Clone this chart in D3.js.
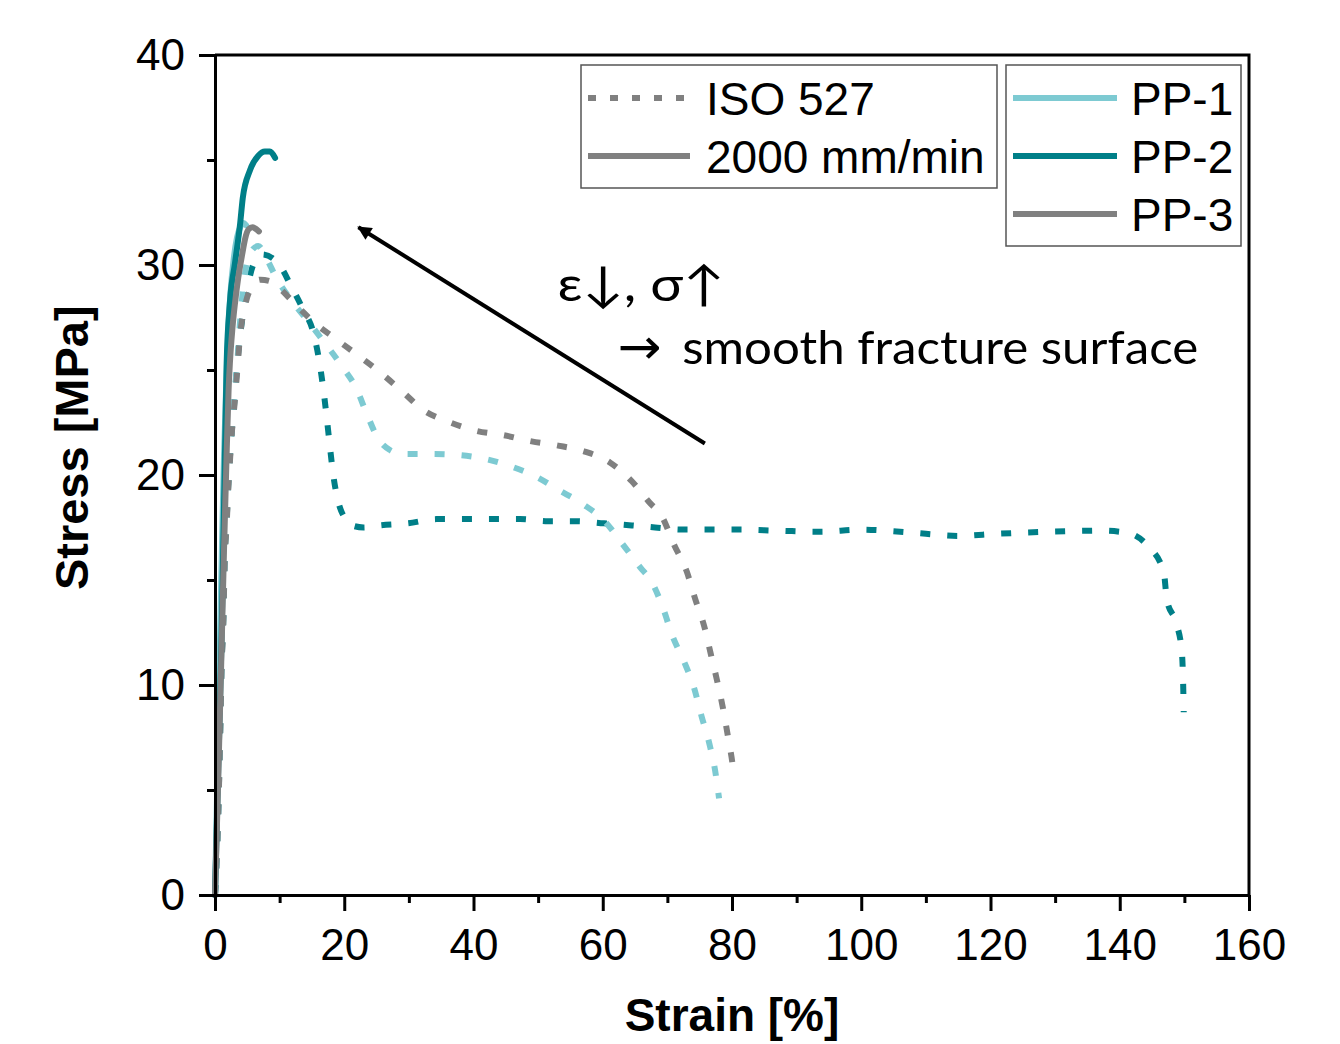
<!DOCTYPE html>
<html>
<head>
<meta charset="utf-8">
<script src="https://cdn.jsdelivr.net/npm/d3@7"></script>
<style>
  body { margin: 0; background: #fff; }
  svg { display: block; }
</style>
</head>
<body>
<div id="chart"></div>
<script>
// Stress-strain curves, ISO 527 (dotted) vs 2000 mm/min (solid)

const xTicks = [0, 20, 40, 60, 80, 100, 120, 140, 160];
const xMinor = [10, 30, 50, 70, 90, 110, 130, 150];
const yTicks = [0, 10, 20, 30, 40];
const yMinor = [5, 15, 25, 35];

const colorPP1 = "#7dcad2";
const colorPP2 = "#007f88";
const colorPP3 = "#808080";

// ISO 527 (slow) curves
const isoPP1Strain = [0, 0.5, 0.8, 1.0, 1.3, 1.5, 1.8, 2.0, 2.3, 2.6, 3.0, 3.4, 3.9, 4.6, 5.5, 6.7, 8.0, 9.3, 11.6, 14.2, 16.7, 19.6, 21.9, 23.5, 25.3, 27.0, 29.1, 33.3, 37.6, 42.0, 45.9, 49.8, 53.1, 57.0, 60.3, 63.1, 65.8, 67.6, 69.4, 70.7, 72.6, 74.1, 75.3, 76.5, 77.4, 78.0];
const isoPP1Stress = [0, 4, 8, 11, 13.5, 16.3, 18, 19.4, 21, 22.3, 23.8, 25.2, 27.4, 29.5, 30.6, 30.9, 30.3, 29.5, 28.4, 27.4, 26.4, 25.2, 24.1, 22.9, 21.7, 21.2, 21.0, 21.0, 20.95, 20.75, 20.4, 19.9, 19.3, 18.6, 17.8, 16.7, 15.6, 14.9, 13.6, 12.4, 11.1, 9.9, 8.5, 7.2, 5.9, 4.6];

const isoPP2Strain = [0, 0.5, 0.8, 1.0, 1.3, 1.5, 1.8, 2.0, 2.3, 2.6, 3.0, 3.5, 4.2, 4.9, 5.9, 7.3, 9.0, 10.4, 11.6, 13.6, 15.2, 16.2, 16.8, 17.3, 17.8, 18.3, 19.1, 20.2, 21.2, 23.0, 25.5, 29.9, 34.3, 38.7, 42.9, 47.2, 51.5, 55.9, 60.2, 64.5, 68.1, 72.3, 76.6, 80.9, 87.0, 93.6, 100, 106, 110, 115, 121, 129, 137.1, 141.1, 144.4, 146.8, 147.3, 148.8, 149.6, 149.8, 149.9];
const isoPP2Stress = [0, 3.9, 7.8, 10.8, 13.3, 16.1, 17.8, 19.2, 20.8, 22.1, 23.5, 25.5, 27.4, 28.7, 30.0, 30.5, 30.3, 29.8, 29.1, 27.9, 26.8, 25.3, 24.0, 22.7, 21.3, 20.0, 18.7, 17.9, 17.6, 17.5, 17.6, 17.7, 17.9, 17.9, 17.9, 17.9, 17.8, 17.8, 17.7, 17.6, 17.5, 17.4, 17.4, 17.4, 17.35, 17.3, 17.4, 17.3, 17.2, 17.1, 17.2, 17.3, 17.35, 17.25, 16.6, 15.4, 14.05, 12.9, 11.6, 10.2, 8.7];

const isoPP3Strain = [0, 0.5, 0.8, 1.0, 1.3, 1.5, 1.8, 2.0, 2.3, 2.6, 3.0, 3.4, 3.9, 4.6, 5.4, 7.0, 8.8, 10.3, 11.9, 13.5, 15.2, 18.6, 22.1, 25.5, 28.9, 32.2, 36.4, 40.5, 44.6, 49.0, 53.1, 57.4, 61.1, 64.5, 67.2, 69.2, 71.0, 73.0, 74.3, 75.7, 76.7, 77.7, 78.6, 79.4, 80.1, 80.3];
const isoPP3Stress = [0, 3.8, 7.6, 10.6, 13.1, 15.9, 17.6, 19.0, 20.6, 22.0, 23.3, 24.8, 26.7, 28.0, 28.8, 29.3, 29.2, 28.8, 28.3, 27.8, 27.3, 26.5, 25.7, 24.9, 24.0, 23.1, 22.5, 22.1, 21.9, 21.6, 21.4, 21.1, 20.6, 19.7, 18.7, 18.0, 16.7, 15.4, 14.1, 12.8, 11.5, 10.2, 8.9, 7.5, 6.2, 5.7];

// 2000 mm/min (fast) curves
const fastPP1Strain = [0, 0.4, 0.8, 1.1, 1.4, 1.7, 2.0, 2.4, 2.9, 3.4, 3.9, 4.4, 4.8];
const fastPP1Stress = [0, 6, 12.5, 17, 21, 24, 26.5, 28.7, 30.3, 31.3, 31.8, 32.0, 31.9];

const fastPP2Strain = [0, 0.5, 1.0, 1.3, 1.6, 1.8, 2.3, 3.1, 3.9, 4.3, 5.4, 6.7, 7.7, 8.5, 9.3];
const fastPP2Stress = [0, 6, 12, 17, 22, 25.3, 28.2, 30.1, 32.0, 33.2, 34.5, 35.2, 35.4, 35.4, 35.1];

const fastPP3Strain = [0, 0.5, 1.0, 1.4, 1.8, 2.1, 2.3, 2.7, 3.1, 3.6, 4.2, 4.7, 5.2, 5.8, 6.4, 6.8];
const fastPP3Stress = [0, 5.5, 11.5, 16.5, 21, 24, 25.3, 27, 28.2, 29.4, 30.5, 31.3, 31.7, 31.8, 31.7, 31.6];

const legendStyles = ["ISO 527", "2000 mm/min"];
const legendSamples = ["PP-1", "PP-2", "PP-3"];
const annotationLine1 = "ε↓, σ↑";
const annotationArrow = "→";
const annotationLine2 = "smooth fracture surface";

const width = 1340, height = 1044;
const margin = { left: 215, top: 55, right: 91, bottom: 149 };
const innerW = width - margin.left - margin.right;
const innerH = height - margin.top - margin.bottom;
const axisFont = "'Liberation Sans', Arial, sans-serif";

const svg = d3.select("#chart").append("svg")
    .attr("width", width)
    .attr("height", height);

const x = d3.scaleLinear().domain([0, 160]).range([0, innerW]);
const y = d3.scaleLinear().domain([0, 40]).range([innerH, 0]);

const g = svg.append("g").attr("transform", `translate(${margin.left},${margin.top})`);

function zip(xs, ys) { return xs.map((v, i) => [v, ys[i]]); }

const line = d3.line()
    .x(d => x(d[0]))
    .y(d => y(d[1]))
    .curve(d3.curveMonotoneX);

// dotted ISO 527 curves
const isoSeries = [
    { data: zip(isoPP2Strain, isoPP2Stress), color: colorPP2 },
    { data: zip(isoPP1Strain, isoPP1Stress), color: colorPP1 },
    { data: zip(isoPP3Strain, isoPP3Stress), color: colorPP3 }
];
g.append("g").selectAll("path")
    .data(isoSeries)
    .join("path")
    .attr("d", d => line(d.data))
    .attr("fill", "none")
    .attr("stroke", d => d.color)
    .attr("stroke-width", 6)
    .attr("stroke-dasharray", "10,17");

// solid 2000 mm/min curves
const fastSeries = [
    { data: zip(fastPP1Strain, fastPP1Stress), color: colorPP1 },
    { data: zip(fastPP2Strain, fastPP2Stress), color: colorPP2 },
    { data: zip(fastPP3Strain, fastPP3Stress), color: colorPP3 }
];
g.append("g").selectAll("path")
    .data(fastSeries)
    .join("path")
    .attr("d", d => line(d.data))
    .attr("fill", "none")
    .attr("stroke", d => d.color)
    .attr("stroke-width", 6)
    .attr("stroke-linecap", "round");

// frame (top + right)
g.append("path")
    .attr("d", `M0,0H${innerW}V${innerH}`)
    .attr("fill", "none")
    .attr("stroke", "#000")
    .attr("stroke-width", 3);

// axes
g.append("g")
    .attr("transform", `translate(0,${innerH})`)
    .call(d3.axisBottom(x).tickValues(xTicks).tickSize(16).tickPadding(18).tickSizeOuter(0));
g.append("g")
    .attr("transform", `translate(0,${innerH})`)
    .call(d3.axisBottom(x).tickValues(xMinor).tickSize(8).tickFormat("").tickSizeOuter(0))
    .call(a => a.select(".domain").remove());

g.append("g")
    .call(d3.axisLeft(y).tickValues(yTicks).tickSize(16).tickPadding(14).tickSizeOuter(0));
g.append("g")
    .call(d3.axisLeft(y).tickValues(yMinor).tickSize(8).tickFormat("").tickSizeOuter(0))
    .call(a => a.select(".domain").remove());

g.selectAll(".domain, .tick line")
    .attr("stroke", "#000")
    .attr("stroke-width", 3);
g.selectAll(".tick text")
    .attr("fill", "#000")
    .style("font-family", axisFont)
    .style("font-size", "44px");

// axis titles
svg.append("text")
    .attr("x", margin.left + x(80))
    .attr("y", 1031)
    .attr("text-anchor", "middle")
    .style("font-family", axisFont)
    .style("font-size", "46px")
    .style("font-weight", "bold")
    .text("Strain [%]");

svg.append("text")
    .attr("transform", `translate(88,${margin.top + y(21.3)}) rotate(-90)`)
    .attr("text-anchor", "middle")
    .style("font-family", axisFont)
    .style("font-size", "47px")
    .style("font-weight", "bold")
    .text("Stress [MPa]");

// annotation arrow
svg.append("defs").append("marker")
    .attr("id", "head")
    .attr("viewBox", "0 0 10 10")
    .attr("refX", 9).attr("refY", 5)
    .attr("markerWidth", 18).attr("markerHeight", 14)
    .attr("markerUnits", "userSpaceOnUse")
    .attr("orient", "auto")
    .append("path")
    .attr("d", "M0,0L10,5L0,10z")
    .attr("fill", "#000");

g.append("line")
    .attr("x1", x(75.8)).attr("y1", y(21.5))
    .attr("x2", x(22.2)).attr("y2", y(31.8))
    .attr("stroke", "#000")
    .attr("stroke-width", 4)
    .attr("marker-end", "url(#head)");

const annoFont = "Lato, 'Open Sans', sans-serif";
g.append("text")
    .attr("x", x(53.0)).attr("y", y(28.3))
    .attr("textLength", 167)
    .attr("lengthAdjust", "spacingAndGlyphs")
    .style("font-family", annoFont)
    .style("font-size", "48px")
    .text(annotationLine1);
g.append("text")
    .attr("x", x(62.3)).attr("y", y(25.3))
    .attr("textLength", 44)
    .attr("lengthAdjust", "spacingAndGlyphs")
    .style("font-family", "'DejaVu Sans', sans-serif")
    .style("font-size", "50px")
    .text(annotationArrow);
g.append("text")
    .attr("x", x(72.3)).attr("y", y(25.3))
    .attr("textLength", 516)
    .attr("lengthAdjust", "spacingAndGlyphs")
    .style("font-family", annoFont)
    .style("font-size", "47px")
    .text(annotationLine2);

// legends
const legendFont = { family: axisFont, size: "46px" };

const leg1 = svg.append("g").attr("transform", "translate(581,65)");
leg1.append("rect")
    .attr("width", 416).attr("height", 123)
    .attr("fill", "#fff")
    .attr("stroke", "#555")
    .attr("stroke-width", 1.5);
leg1.selectAll("line")
    .data(legendStyles)
    .join("line")
    .attr("x1", 7).attr("x2", (d, i) => i === 0 ? 103 : 109)
    .attr("y1", (d, i) => 33 + i * 58).attr("y2", (d, i) => 33 + i * 58)
    .attr("stroke", colorPP3)
    .attr("stroke-width", 6)
    .attr("stroke-dasharray", (d, i) => i === 0 ? "8,14" : null);
leg1.selectAll("text")
    .data(legendStyles)
    .join("text")
    .attr("x", 125)
    .attr("y", (d, i) => 50 + i * 58)
    .style("font-family", legendFont.family)
    .style("font-size", legendFont.size)
    .text(d => d);

const leg2 = svg.append("g").attr("transform", "translate(1006,65)");
leg2.append("rect")
    .attr("width", 235).attr("height", 181)
    .attr("fill", "#fff")
    .attr("stroke", "#555")
    .attr("stroke-width", 1.5);
const sampleColors = [colorPP1, colorPP2, colorPP3];
leg2.selectAll("line")
    .data(legendSamples)
    .join("line")
    .attr("x1", 7).attr("x2", 111)
    .attr("y1", (d, i) => 33 + i * 58).attr("y2", (d, i) => 33 + i * 58)
    .attr("stroke", (d, i) => sampleColors[i])
    .attr("stroke-width", 6);
leg2.selectAll("text")
    .data(legendSamples)
    .join("text")
    .attr("x", 125)
    .attr("y", (d, i) => 50 + i * 58)
    .style("font-family", legendFont.family)
    .style("font-size", legendFont.size)
    .text(d => d);
</script>
</body>
</html>
